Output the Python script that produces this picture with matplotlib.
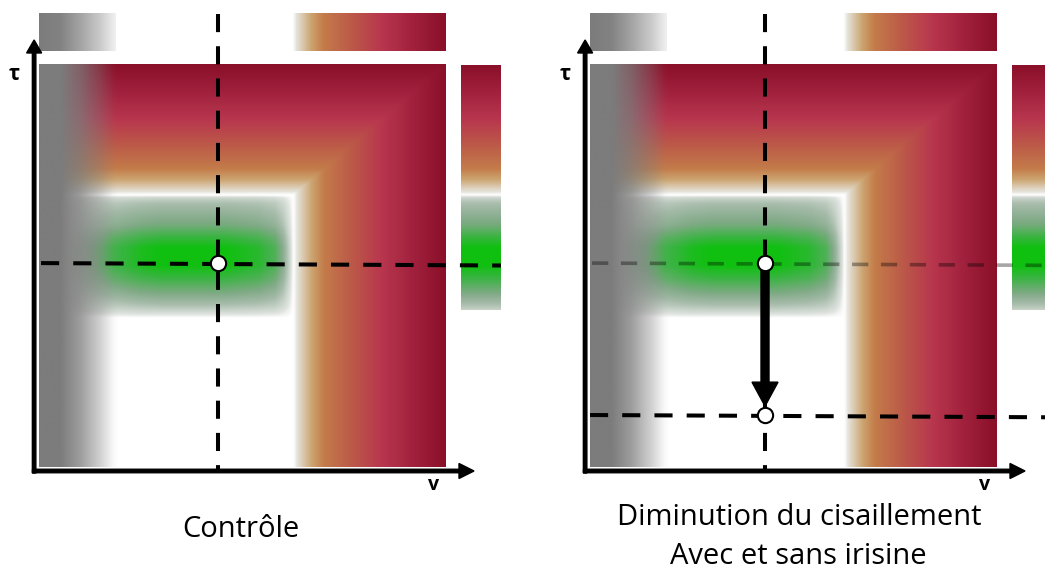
import numpy as np
import matplotlib
matplotlib.use('Agg')
import matplotlib.pyplot as plt
from matplotlib.colors import LinearSegmentedColormap, to_rgb

plt.rcParams['font.family'] = ['Open Sans', 'DejaVu Sans']

# ---------------- données du schéma (v et tau normalisés sur la carte, 0..1)
titres = [['Contrôle'], ['Diminution du cisaillement', 'Avec et sans irisine']]
v_point = [0.440, 0.430]          # position du point de fonctionnement (v)
tau_controle = 0.506              # tau du point contrôle
tau_diminue = 0.129               # tau après diminution du cisaillement

# profils de la carte
v_rampe = 0.625                   # début du gradient rouge selon v
tau_rampe = 0.675                 # début du gradient rouge selon tau
vert_tau = [0.37, 0.40, 0.43, 0.47, 0.50, 0.545, 0.57, 0.60, 0.63, 0.655, 0.668, 0.675]
vert_tau_val = [0.0, 0.3, 0.55, 0.85, 1.0, 1.0, 0.85, 0.6, 0.45, 0.32, 0.18, 0.0]
vert_v = [0.05, 0.12, 0.18, 0.25, 0.30, 0.46, 0.54, 0.58, 0.60, 0.615, 0.625]
vert_v_val = [0.0, 0.5, 0.8, 0.95, 1.0, 1.0, 0.9, 0.75, 0.5, 0.2, 0.0]
gris_v = [0.0, 0.052, 0.10, 0.15, 0.182, 0.194]
gris_val = [1.0, 1.0, 0.75, 0.35, 0.05, 0.0]
gris_barre_val = [1.0, 0.95, 0.7, 0.4, 0.15, 0.12]

# palettes
rampe = LinearSegmentedColormap.from_list('rampe', [
    (0.0, '#FFFFFF'), (0.025, '#E4E2DA'), (0.12, '#CCA470'), (0.2, '#C47C4A'),
    (0.38, '#BC5A48'), (0.58, '#B8364E'), (0.78, '#A2223E'), (1.0, '#8A0F28')])
verts = LinearSegmentedColormap.from_list('verts', [
    (0.0, '#FFFFFF'), (0.08, '#E0E4E0'), (0.35, '#A4BAA8'), (0.55, '#80AA86'),
    (0.85, '#38B440'), (1.0, '#10C010')])
gris = np.array(to_rgb('#7C7C7C'))


def carte(V, T):
    u = np.clip((V - v_rampe) / (1 - v_rampe), 0, 1)
    w = np.clip((T - tau_rampe) / (1 - tau_rampe), 0, 1)
    m = np.maximum(u, w)
    g = np.interp(T, vert_tau, vert_tau_val) * np.interp(V, vert_v, vert_v_val)
    rgb = np.where((m > 0)[..., None], rampe(m)[..., :3], verts(g)[..., :3])
    a = np.interp(V, gris_v, gris_val)[..., None]
    return a * gris + (1 - a) * rgb


# grilles
V, T = np.meshgrid(np.linspace(0, 1, 408), np.linspace(0, 1, 404))
img = carte(V, T)

vb = np.linspace(0, 0.187, 80)
barre_gris = np.interp(vb, gris_v[:5] + [0.187], gris_barre_val)[None, :, None]
barre_gris = barre_gris * gris + (1 - barre_gris) * np.ones(3)

vc = np.linspace(0.622, 1, 160)
barre_rouge = rampe(np.clip((vc - 0.622) / (1 - 0.622), 0, 1))[None, :, :3]

tc = np.linspace(0.39, 0.9975, 250)
wc = np.clip((tc - tau_rampe) / (1 - tau_rampe), 0, 1)
barre_cote = np.where((wc > 0)[:, None], rampe(wc)[:, :3],
                      verts(np.interp(tc, vert_tau, vert_tau_val))[:, :3])[:, None, :]

fig = plt.figure(figsize=(10.45, 5.70), dpi=100)

# limites en pixels -> unités de la carte (carte de 407 x 403 px)
xlim = ((0 - 39) / 407, (520 - 39) / 407)
ylim = ((467 - 570) / 403, (467 - 0) / 403)
gauches = [0, 551]

for i in range(2):
    ax = fig.add_axes([gauches[i] / 1045, 0, 520 / 1045, 1])
    ax.axis('off')

    ax.imshow(img, extent=(0, 1, 0, 1), origin='lower', interpolation='bilinear')
    ax.imshow(barre_gris, extent=(0, 0.187, 1.032, 1.124), interpolation='bilinear')
    ax.imshow(barre_rouge, extent=(0.622, 1, 1.032, 1.124), interpolation='bilinear')
    ax.imshow(barre_cote, extent=(1.037, 1.135, 0.39, 0.9975), origin='lower',
              interpolation='bilinear')
    ax.set_aspect('auto')
    ax.set_xlim(xlim)
    ax.set_ylim(ylim)

    # axes v et tau
    ax.arrow(-0.012, -0.015, 0, 1.0596 + 0.015, width=3.5 / 407, head_width=15 / 407,
             head_length=13 / 403, length_includes_head=True, color='k', zorder=3)
    ax.arrow(-0.016, -0.0099, 1.0688 + 0.016, 0, width=3.5 / 403, head_width=15 / 403,
             head_length=15 / 407, length_includes_head=True, color='k', zorder=3)
    ax.text(-0.0614, 0.973, 'τ', fontsize=15, fontweight='bold', ha='center', va='center')
    ax.text(0.9705, -0.045, 'v', fontsize=14, fontweight='bold', ha='center', va='center')

    # lignes pointillées
    v = v_point[i]
    ax.plot([v, v], [1.124, -0.005], color='k', lw=2.9, dashes=(4.5, 3.5), zorder=3)
    if i == 0:
        ax.plot([0.005, 1.135], [tau_controle, tau_controle - 0.006], color='k', lw=2.9,
                dashes=(4.5, 3.5), zorder=3)
        ax.plot(v, tau_controle, 'o', ms=11, mfc='white', mec='k', mew=1.5, zorder=5)
    else:
        ax.plot([0.005, 1.2], [tau_controle, tau_controle - 0.006], color='k', lw=2.6,
                dashes=(4.5, 3.5), alpha=0.35, zorder=3)
        ax.plot([0.0, 1.2], [tau_diminue, tau_diminue - 0.006], color='k', lw=2.9,
                dashes=(4.5, 3.5), zorder=3)
        ax.arrow(v, tau_controle, 0, 0.151 - tau_controle, width=8 / 407,
                 head_width=26 / 407, head_length=24 / 403, length_includes_head=True,
                 color='k', zorder=4)
        ax.plot(v, tau_controle, 'o', ms=11, mfc='white', mec='k', mew=1.5, zorder=5)
        ax.plot(v, tau_diminue, 'o', ms=11, mfc='white', mec='k', mew=1.5, zorder=5)

    # titres
    if i == 0:
        ax.text(0.4963, -0.1737, titres[0][0], fontsize=21, ha='center', va='baseline')
    else:
        ax.text(0.5135, -0.1439, titres[1][0], fontsize=21, ha='center', va='baseline')
        ax.text(0.511, -0.2400, titres[1][1], fontsize=21, ha='center', va='baseline')

fig.savefig('out.png', dpi=100)
